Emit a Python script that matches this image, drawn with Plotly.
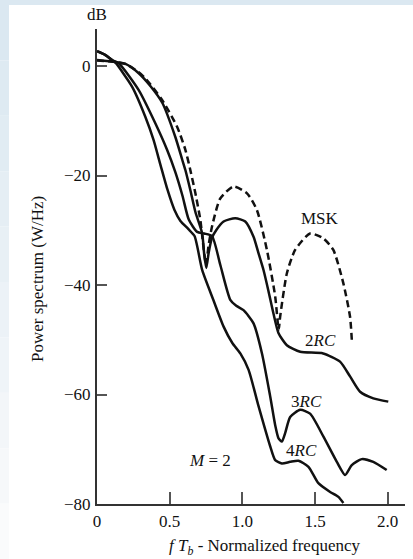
import plotly.graph_objects as go

# ---------------- data ----------------
f_msk = [0.0, 0.127, 0.196, 0.285, 0.333, 0.448, 0.551, 0.608, 0.642, 0.677, 0.711, 0.731,
         0.750, 0.768, 0.791, 0.848, 0.940, 1.032, 1.100, 1.169, 1.226, 1.250, 1.260, 1.306,
         1.363, 1.466, 1.558, 1.626, 1.695, 1.741, 1.753]
p_msk = [1.0, 0.73, 0.37, -1.1, -2.25, -6.2, -11.1, -15.3, -19.0, -23.25, -28.1, -32.7,
         -36.3, -32.7, -29.35, -24.2, -22.0, -23.25, -26.3, -33.6, -42.1, -48.2, -45.8, -37.9,
         -33.6, -30.6, -31.5, -33.6, -39.7, -45.8, -50.0]

f_2rc = [0.0, 0.127, 0.196, 0.285, 0.367, 0.450, 0.539, 0.587, 0.608, 0.642, 0.677, 0.723,
         0.738, 0.752, 0.769, 0.791, 0.821, 0.871, 0.951, 1.020, 1.077, 1.109, 1.146, 1.178,
         1.214, 1.249, 1.306, 1.398, 1.556, 1.672, 1.741, 1.810, 1.901, 2.004]
p_2rc = [1.1, 0.73, 0.37, -1.28, -3.65, -6.76, -12.97, -17.17, -19.0, -22.65, -26.67, -30.5,
         -34.5, -36.9, -34.0, -31.4, -29.95, -28.4, -27.8, -28.4, -31.2, -34.0, -37.3, -40.9,
         -45.2, -48.8, -51.0, -52.2, -52.5, -54.0, -56.7, -59.5, -60.7, -61.3]

f_3rc = [0.0, 0.058, 0.104, 0.150, 0.287, 0.402, 0.482, 0.539, 0.588, 0.632, 0.689,
         0.738, 0.791, 0.848, 0.917, 0.958, 1.008, 1.077, 1.135, 1.192, 1.226, 1.249, 1.272,
         1.295, 1.329, 1.398, 1.466, 1.558, 1.650, 1.707, 1.753, 1.821, 1.901, 1.993]
p_3rc = [2.7, 2.0, 1.1, 0.5, -4.4, -10.5, -15.3, -19.4, -23.7, -28.1, -30.3,
         -30.6, -31.05, -36.3, -42.7, -43.8, -44.6, -47.0, -52.5, -60.4, -65.6, -68.0, -68.6,
         -67.0, -64.1, -62.8, -63.5, -67.7, -72.3, -74.7, -72.9, -71.8, -72.3, -73.8]

f_4rc = [0.0, 0.058, 0.104, 0.127, 0.242, 0.333, 0.389, 0.437, 0.485, 0.533, 0.574, 0.629,
         0.671, 0.724, 0.800, 0.871, 0.931, 0.986, 1.043, 1.109, 1.192, 1.226, 1.272, 1.329,
         1.386, 1.455, 1.523, 1.604, 1.661, 1.695]
p_4rc = [2.7, 2.0, 1.1, 0.6, -3.8, -9.3, -13.5, -18.1, -22.6, -26.3, -28.3, -29.8,
         -31.05, -37.3, -42.7, -47.6, -50.6, -52.5, -55.5, -61.9, -69.5, -72.0, -72.6, -72.3,
         -72.1, -73.2, -76.2, -77.8, -78.7, -79.8]

x_tickvals = [0, 0.5, 1.0, 1.5, 2.0]
x_ticktext = ["0", "0.5", "1.0", "1.5", "2.0"]
y_tickvals = [-80, -60, -40, -20, 0]
y_ticktext = ["\u221280", "\u221260", "\u221240", "\u221220", "0"]

curve_labels = ["MSK", "2<i>RC</i>", "3<i>RC</i>", "4<i>RC</i>", "<i>M</i> = 2"]
label_x = [1.534, 1.540, 1.438, 1.407, 0.777]
label_y = [-27.8, -50.2, -61.2, -70.3, -72.1]

# ---------------- layout geometry ----------------
W, H = 413, 559
L, R, T, B = 97, 8, 29, 55
PW, PH = W - L - R, H - T - B


def px(xp):
    return (xp - L) / PW


def py(yp):
    return (H - B - yp) / PH


FONT = "Liberation Serif, Times New Roman, serif"
INK = "#111111"

fig = go.Figure()

line_style = dict(color=INK, width=2.5, shape="spline", smoothing=0.6)
fig.add_trace(go.Scatter(x=f_msk, y=p_msk, mode="lines", name="MSK",
                         line=dict(line_style, dash="7px,4px")))
fig.add_trace(go.Scatter(x=f_2rc, y=p_2rc, mode="lines", name="2RC", line=line_style))
fig.add_trace(go.Scatter(x=f_3rc, y=p_3rc, mode="lines", name="3RC", line=line_style))
fig.add_trace(go.Scatter(x=f_4rc, y=p_4rc, mode="lines", name="4RC", line=line_style))

annotations = []
for txt, xx, yy in zip(curve_labels, label_x, label_y):
    annotations.append(dict(x=xx, y=yy, xref="x", yref="y", text=txt, showarrow=False,
                            xanchor="center", yanchor="middle",
                            font=dict(family=FONT, size=17, color=INK)))

annotations.append(dict(x=0, y=py(15), xref="x", yref="paper", text="dB", showarrow=False,
                        xanchor="center", yanchor="middle",
                        font=dict(family=FONT, size=17, color=INK)))
annotations.append(dict(x=px(37), y=py(279), xref="paper", yref="paper",
                        text="Power spectrum (W/Hz)", textangle=-90, showarrow=False,
                        xanchor="center", yanchor="middle",
                        font=dict(family=FONT, size=17, color=INK)))
annotations.append(dict(x=px(265), y=py(547), xref="paper", yref="paper",
                        text="<i>f T<sub>b</sub></i> - Normalized frequency", showarrow=False,
                        xanchor="center", yanchor="middle",
                        font=dict(family=FONT, size=17, color=INK)))

# background: light blue frame, fading on the left side
shapes = [dict(type="rect", xref="paper", yref="paper", x0=px(0), x1=px(W), y0=py(H), y1=py(0),
               fillcolor="white", line_width=0, layer="below"),
          dict(type="rect", xref="paper", yref="paper", x0=px(0), x1=px(W), y0=py(5), y1=py(0),
               fillcolor="rgb(219,232,241)", line_width=0, layer="below")]
n = 10
for i in range(n):
    y0p = 5 + (H - 5) * i / n
    y1p = 5 + (H - 5) * (i + 1) / n
    t = i / (n - 1)
    r = int(219 + (250 - 219) * t)
    g = int(232 + (251 - 232) * t)
    b = int(241 + (252 - 241) * t)
    shapes.append(dict(type="rect", xref="paper", yref="paper", x0=px(0), x1=px(9),
                       y0=py(y1p), y1=py(y0p), fillcolor=f"rgb({r},{g},{b})",
                       line_width=0, layer="below"))

axis_common = dict(showgrid=False, zeroline=False, showline=True, linecolor="#333333",
                   linewidth=2, ticks="inside", tickcolor="#555555", tickwidth=1.5,
                   automargin=False,
                   tickfont=dict(family=FONT, size=17, color=INK))

fig.update_layout(
    width=W, height=H,
    margin=dict(l=L, r=R, t=T, b=B),
    paper_bgcolor="white", plot_bgcolor="rgba(0,0,0,0)",
    showlegend=False,
    xaxis=dict(axis_common, range=[0, PW / 145.35], tickvals=x_tickvals, ticktext=x_ticktext,
               ticklen=12, ticklabelstandoff=1),
    yaxis=dict(axis_common, range=[-80, -80 + PH / 5.475], tickvals=y_tickvals,
               ticktext=y_ticktext, ticklen=10, ticklabelstandoff=1),
    annotations=annotations,
    shapes=shapes,
)

fig.write_html("out.html", config={"displayModeBar": False},
               post_script="document.body.style.margin='0';document.body.style.overflow='hidden';")
